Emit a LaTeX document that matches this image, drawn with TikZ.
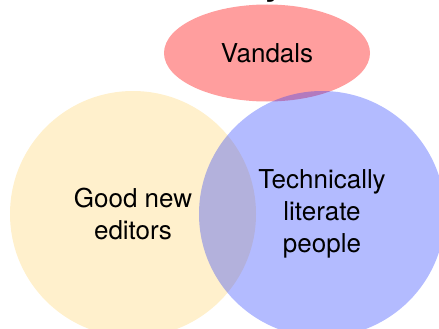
\documentclass[tikz,border=0pt]{standalone}
\usepackage{fontspec}
\setmainfont{TeX Gyre Heros}
\usetikzlibrary{shapes.geometric}
\definecolor{vandalred}{RGB}{255,0,0}
\definecolor{editoryellow}{RGB}{255,240,204}
\definecolor{techblue}{RGB}{25,49,255}
\tikzset{
    set/.style={inner sep=0pt, align=center, text=black, text opacity=1,
        font=\fontsize{26}{32}\selectfont},
}
\begin{document}
\begin{tikzpicture}[x=1pt,y=-1pt]
    \useasboundingbox (0,0) rectangle (439,329);
    % Three overlapping groups of users
    \node[set, ellipse, minimum width=206pt, minimum height=97pt,
        fill=vandalred, fill opacity=0.38] (vandals) at (267,53) {Vandals};
    \node[set, circle, minimum size=246pt, fill=editoryellow]
        (editors) at (133,214) {Good new\\editors};
    \node[set, circle, minimum size=246pt, fill=techblue, fill opacity=0.33]
        (literate) at (322,214) {Technically\\literate\\people};
    % the cut-off title above
    \node[font=\fontsize{36}{40}\selectfont\bfseries, anchor=base, inner sep=0pt]
        (title) at (275,-5) {y};
\end{tikzpicture}
\end{document}
